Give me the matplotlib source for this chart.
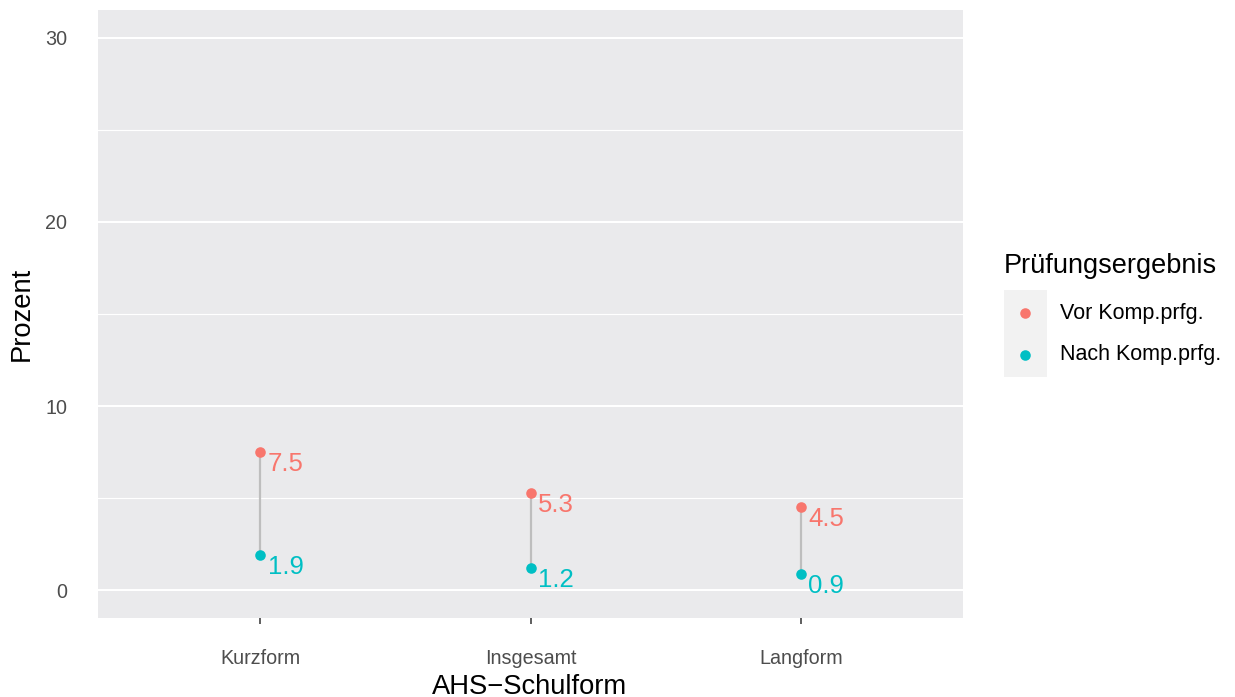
import numpy as np
import matplotlib
matplotlib.use("Agg")
import matplotlib.pyplot as plt
from matplotlib.lines import Line2D
from matplotlib.patches import Rectangle

plt.rcParams["font.family"] = ["Liberation Sans", "DejaVu Sans"]

# data
schulform = ["Kurzform", "Insgesamt", "Langform"]
vor = [7.5, 5.3, 4.5]
nach = [1.9, 1.2, 0.9]
legend_labels = ["Vor Komp.prfg.", "Nach Komp.prfg."]

red = "#F8766D"
cyan = "#00BFC4"

fig = plt.figure(figsize=(12.35, 6.97), dpi=100)
ax = fig.add_axes([98 / 1235, 1 - 618 / 697, 865 / 1235, 608 / 697])
ax.set_facecolor("#EAEAEC")

x = np.arange(len(schulform))

# segments, then points
ax.vlines(x, nach, vor, color="#BEBEBE", linewidth=1.6, zorder=2)
ax.scatter(x, vor, s=58, color=red, zorder=3, linewidths=0)
ax.scatter(x, nach, s=58, color=cyan, zorder=3, linewidths=0)

for xi, v in zip(x, vor):
    ax.annotate(f"{v:.1f}", (xi, v), xytext=(5.5, 0), textcoords="offset points",
                ha="left", va="top", fontsize=18.5, color=red, zorder=4)
for xi, v in zip(x, nach):
    ax.annotate(f"{v:.1f}", (xi, v), xytext=(5.5, 0), textcoords="offset points",
                ha="left", va="top", fontsize=18.5, color=cyan, zorder=4)

ax.set_xlim(-0.6, len(schulform) - 0.4)
ax.set_ylim(-1.5, 31.5)
ax.set_xticks(x)
ax.set_xticklabels(schulform)
ax.set_yticks([0, 10, 20, 30])
ax.set_yticks([5, 15, 25], minor=True)

ax.grid(axis="y", which="major", color="white", linewidth=1.5)
ax.grid(axis="y", which="minor", color="white", linewidth=0.8)
ax.set_axisbelow(True)
for s in ax.spines.values():
    s.set_visible(False)

ax.tick_params(axis="x", which="major", length=4.5, width=1.1, color="#333333",
               labelsize=14.2, labelcolor="#4D4D4D", pad=17.5)
ax.tick_params(axis="y", which="both", length=0, labelsize=14.2,
               labelcolor="#4D4D4D", pad=22)

# axis titles
fig.text(530 / 1235, 1 - 694 / 697, "AHS\u2212Schulform", ha="center", va="baseline",
         fontsize=19.7)
fig.text(22 / 1235, 1 - 314 / 697, "Prozent", ha="center", va="center",
         rotation=90, fontsize=19.7)

# legend
fig.text(1004 / 1235, 1 - 273 / 697, "Prüfungsergebnis", ha="left", va="baseline",
         fontsize=19.5)
fig.patches.append(Rectangle((1004 / 1235, 1 - 377 / 697), 43 / 1235, 87 / 697,
                             transform=fig.transFigure, facecolor="#F2F2F2",
                             edgecolor="none"))
for lab, col, yy in zip(legend_labels, [red, cyan], [313, 355]):
    fig.add_artist(Line2D([1025 / 1235], [1 - yy / 697], marker="o", markersize=7.6,
                          color=col, markeredgewidth=0, linestyle="none",
                          transform=fig.transFigure))
    fig.text(1060 / 1235, 1 - yy / 697, lab, ha="left", va="center", fontsize=15.5)

fig.savefig("out.png", dpi=100)
